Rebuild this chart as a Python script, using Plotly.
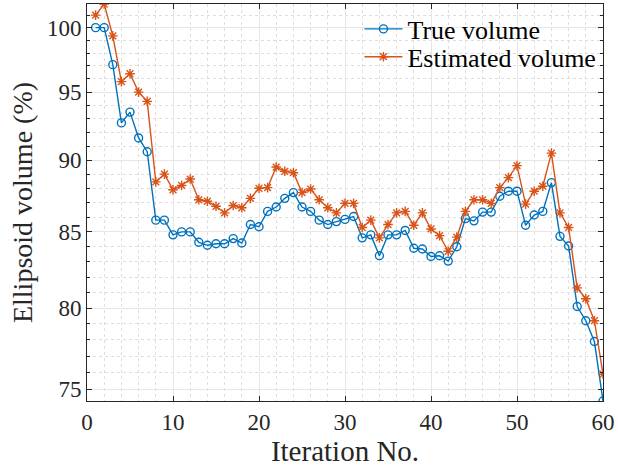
import math
import plotly.graph_objects as go

# Iteration index
iterations = list(range(1, 61))

# Ellipsoid volume relative to the initial one (%)
true_volume = [
    100.0, 100.0, 97.1, 92.7, 93.5, 91.6, 90.6, 85.8, 85.8, 84.8,
    85.0, 85.0, 84.3, 84.1, 84.2, 84.2, 84.55, 84.25, 85.5, 85.35,
    86.4, 86.7, 87.3, 87.7, 86.7, 86.4, 85.8, 85.5, 85.7, 85.85,
    86.05, 84.6, 84.8, 83.4, 84.8, 84.8, 85.1, 83.9, 83.85, 83.35,
    83.4, 83.05, 84.0, 85.9, 85.75, 86.35, 86.35, 87.45, 87.8, 87.8,
    85.45, 86.15, 86.4, 88.4, 84.7, 84.05, 80.1, 79.2, 77.9, 74.3,
]
estimated_volume = [
    101.0, 101.9, 99.35, 95.8, 96.4, 95.0, 94.3, 88.45, 89.0, 87.9,
    88.2, 88.65, 87.2, 87.1, 86.75, 86.3, 86.8, 86.65, 87.3, 88.0,
    88.05, 89.5, 89.2, 89.1, 87.7, 87.95, 87.2, 86.65, 86.3, 86.95,
    86.95, 85.3, 85.8, 84.6, 85.5, 86.3, 86.4, 85.45, 86.3, 85.2,
    84.75, 83.7, 84.65, 86.4, 87.2, 87.2, 86.95, 88.05, 88.75, 89.6,
    86.9, 87.8, 88.15, 90.5, 86.3, 85.3, 81.3, 80.6, 79.2, 75.9,
]

x_ticks = [0, 10, 20, 30, 40, 50, 60]
y_ticks = [75, 80, 85, 90, 95, 100]

BLUE = "#0072BD"
ORANGE = "#D95319"
INK = "#262626"
FONT = "Liberation Serif"

fig = go.Figure()
fig.add_trace(go.Scatter(
    x=iterations, y=true_volume, name="True volume",
    mode="lines+markers", legend="legend",
    line=dict(color=BLUE, width=1.4),
    marker=dict(symbol="circle-open", size=8, color=BLUE, line=dict(width=1.4)),
))
fig.add_trace(go.Scatter(
    x=iterations, y=estimated_volume, name="Estimated volume",
    mode="lines+markers", legend="legend2",
    line=dict(color=ORANGE, width=1.4),
    marker=dict(symbol="asterisk-open", size=8, color=ORANGE, line=dict(width=1.4, color=ORANGE)),
))

all_vals = true_volume + estimated_volume
y_lo, y_hi = min(all_vals), max(all_vals)

axis_common = dict(
    showline=True, linecolor=INK, linewidth=1, mirror="allticks",
    ticks="inside", ticklen=5, tickcolor=INK,
    showgrid=True, gridcolor="#e6e6e6", gridwidth=1,
    zeroline=False,
    tickfont=dict(family=FONT, size=23, color=INK),
    ticklabeloverflow="allow",
)

fig.update_xaxes(
    **axis_common,
    range=[0, 60],
    tickvals=x_ticks,
    ticktext=[str(v) for v in x_ticks],
    minor=dict(dtick=2, tick0=0, ticks="", showgrid=True,
               gridcolor="#dedede", griddash="dot", gridwidth=1),
    title=dict(text="Iteration No.", font=dict(family=FONT, size=29, color=INK), standoff=4),
)
fig.update_yaxes(
    **axis_common,
    type="log",
    range=[math.log10(y_lo), math.log10(y_hi)],
    tickvals=y_ticks,
    ticktext=[str(v) for v in y_ticks],
    minor=dict(tickmode="array", tickvals=list(range(75, 102)), ticks="inside",
               ticklen=3, tickcolor=INK, showgrid=True,
               gridcolor="#dedede", griddash="dot", gridwidth=1),
    title=dict(text="Ellipsoid volume (%)", font=dict(family=FONT, size=28, color=INK), standoff=6),
)

legend_common = dict(
    x=0.528, xanchor="left", yanchor="middle",
    bgcolor="rgba(0,0,0,0)", borderwidth=0,
    font=dict(family=FONT, size=26, color="black"),
    itemwidth=38,
)

fig.update_layout(
    width=618, height=469,
    margin=dict(l=87, r=9, t=3, b=68),
    plot_bgcolor="white", paper_bgcolor="white",
    showlegend=True,
    legend=dict(**legend_common, y=0.937),
    legend2=dict(**legend_common, y=0.867),
)

fig.write_html("out.html")
